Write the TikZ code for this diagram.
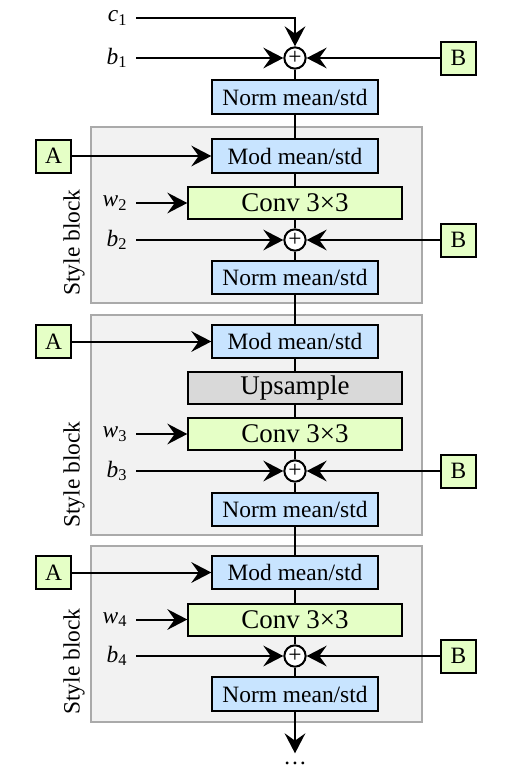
\documentclass[tikz,border=0pt]{standalone}
\usepackage{fontspec}
\setmainfont{Liberation Serif}
\usepackage{tikz}
\usetikzlibrary{arrows.meta}
\definecolor{normblue}{RGB}{200, 228, 255}
\definecolor{convgreen}{RGB}{229, 255, 198}
\definecolor{upgray}{RGB}{217, 217, 217}
\definecolor{blockfill}{RGB}{242, 242, 242}
\definecolor{blockedge}{RGB}{170, 170, 170}
\newcommand{\invar}[2]{\textit{#1}\textsubscript{#2}}

\begin{document}
\begin{tikzpicture}[
    x=0.15mm, y=-0.15mm,
    normbox/.style={rectangle, draw, line width=0.3mm, fill=normblue, minimum width=24.8mm, minimum height=5mm, inner sep=0pt},
    convbox/.style={rectangle, draw, line width=0.3mm, fill=convgreen, minimum width=32mm, minimum height=4.8mm, inner sep=0pt, font=\fontsize{11.5}{13}\selectfont},
    upbox/.style={convbox, fill=upgray},
    inbox/.style={rectangle, draw, line width=0.3mm, fill=convgreen, minimum width=5.25mm, minimum height=4.95mm, inner sep=0pt},
    addnode/.style={circle, draw, line width=0.3mm, fill=white, minimum size=3.2mm, inner sep=0pt},
    lbl/.style={anchor=east},
    blocklbl/.style={rotate=90, anchor=west},
    blockbg/.style={draw=blockedge, fill=blockfill, line width=0.25mm},
    link/.style={line width=0.3mm},
    arrow/.style={-{Stealth[length=3mm, width=3.1mm, inset=1.1mm]}, line width=0.3mm}
]
    \useasboundingbox (0,0) rectangle (511,776);

    % Style block backgrounds
    \draw[blockbg] (91,127) rectangle (422,303);
    \draw[blockbg] (91,315) rectangle (422,535);
    \draw[blockbg] (91,546) rectangle (422,722);
    \node[blocklbl] (lblk1) at (74,304) {Style block};
    \node[blocklbl] (lblk2) at (74,536) {Style block};
    \node[blocklbl] (lblk3) at (74,723) {Style block};

    % Input
    \node[lbl] (c1) at (136,18) {\invar{c}{1}};
    \node[lbl] (b1) at (136,58) {\invar{b}{1}};
    \node[addnode] (add1) at (295,58) {+};
    \node[inbox] (B1) at (458.5,58) {B};
    \node[normbox] (norm1) at (295,97) {Norm mean/std};

    % Style block 1
    \node[inbox] (A2) at (53.5,156) {A};
    \node[normbox] (mod2) at (295,156) {Mod mean/std};
    \node[lbl] (w2) at (136,203) {\invar{w}{2}};
    \node[convbox] (conv2) at (295,203) {Conv 3×3};
    \node[lbl] (b2) at (136,240) {\invar{b}{2}};
    \node[addnode] (add2) at (295,240) {+};
    \node[inbox] (B2) at (458.5,240) {B};
    \node[normbox] (norm2) at (295,277.5) {Norm mean/std};

    % Style block 2
    \node[inbox] (A3) at (53.5,341.5) {A};
    \node[normbox] (mod3) at (295,341.5) {Mod mean/std};
    \node[upbox] (up3) at (295,388) {Upsample};
    \node[lbl] (w3) at (136,434) {\invar{w}{3}};
    \node[convbox] (conv3) at (295,434) {Conv 3×3};
    \node[lbl] (b3) at (136,471) {\invar{b}{3}};
    \node[addnode] (add3) at (295,471) {+};
    \node[inbox] (B3) at (458.5,471) {B};
    \node[normbox] (norm3) at (295,509.5) {Norm mean/std};

    % Style block 3
    \node[inbox] (A4) at (53.5,572.5) {A};
    \node[normbox] (mod4) at (295,572.5) {Mod mean/std};
    \node[lbl] (w4) at (136,619.5) {\invar{w}{4}};
    \node[convbox] (conv4) at (295,619.5) {Conv 3×3};
    \node[lbl] (b4) at (136,656) {\invar{b}{4}};
    \node[addnode] (add4) at (295,656) {+};
    \node[inbox] (B4) at (458.5,656) {B};
    \node[normbox] (norm4) at (295,694) {Norm mean/std};
    \node (dots) at (295,763) {\dots};

    % Connections
    \draw[arrow] (c1) -| (add1);
    \draw[arrow] (b1) -- (add1);
    \draw[arrow] (B1) -- (add1);
    \draw[link] (add1) -- (norm1) -- (mod2) -- (conv2) -- (add2) -- (norm2) -- (mod3) -- (up3) -- (conv3) -- (add3) -- (norm3) -- (mod4) -- (conv4) -- (add4) -- (norm4);
    \draw[arrow] (norm4) -- (dots);
    \draw[arrow] (A2) -- (mod2);
    \draw[arrow] (w2) -- (conv2);
    \draw[arrow] (b2) -- (add2);
    \draw[arrow] (B2) -- (add2);
    \draw[arrow] (A3) -- (mod3);
    \draw[arrow] (w3) -- (conv3);
    \draw[arrow] (b3) -- (add3);
    \draw[arrow] (B3) -- (add3);
    \draw[arrow] (A4) -- (mod4);
    \draw[arrow] (w4) -- (conv4);
    \draw[arrow] (b4) -- (add4);
    \draw[arrow] (B4) -- (add4);
\end{tikzpicture}
\end{document}
